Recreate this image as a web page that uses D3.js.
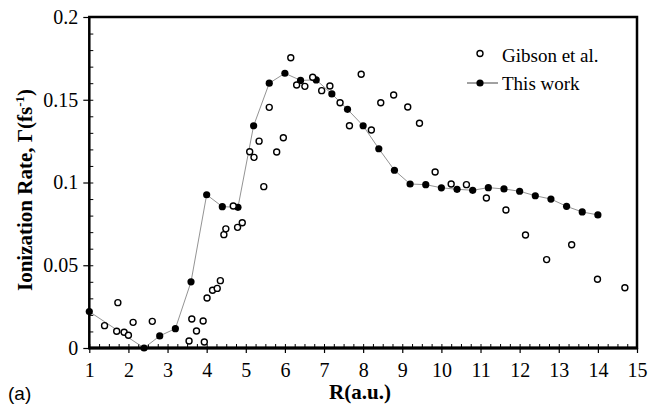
<!DOCTYPE html>
<html>

<script src="https://cdn.jsdelivr.net/npm/d3@7"></script>

<style>

  body, html {
    padding: 0;
    margin: 0;
    background: white;
  }

  svg {
    width: 649px;
    height: 405px;
    display: block;
  }

  svg text {
    font-family: "Liberation Serif", "Times New Roman", Times, "DejaVu Serif", serif;
    fill: black;
  }

</style>

<body>
  <svg></svg>

	<script>

    // ionization rate vs internuclear distance R

    var workR = [1.0, 2.4, 2.8, 3.2, 3.6, 4.0, 4.4, 4.8, 5.2, 5.6, 6.0, 6.4, 6.8,
      7.2, 7.6, 8.0, 8.4, 8.8, 9.2, 9.6, 10.0, 10.4, 10.8, 11.2, 11.6, 12.0,
      12.4, 12.8, 13.2, 13.6, 14.0];
    var workRate = [0.022, 0.0, 0.0073, 0.0117, 0.040, 0.0926, 0.0854, 0.085,
      0.1343, 0.160, 0.166, 0.1617, 0.162, 0.1535, 0.1442, 0.1343, 0.1204,
      0.1074, 0.0991, 0.0987, 0.0968, 0.0959, 0.0953, 0.0969, 0.0961, 0.0947,
      0.092, 0.090, 0.0856, 0.0822, 0.0804];

    var gibsonR = [1.39, 1.73, 1.70, 1.89, 2.00, 2.12, 2.61, 3.55, 3.62, 3.74,
      3.91, 3.94, 4.01, 4.15, 4.27, 4.35, 4.44, 4.49, 4.68, 4.79, 4.91, 5.10,
      5.21, 5.34, 5.46, 5.60, 5.79, 5.96, 6.15, 6.30, 6.51, 6.71, 6.94, 7.15,
      7.41, 7.65, 7.95, 8.21, 8.45, 8.78, 9.14, 9.44, 9.84, 10.25, 10.64,
      11.15, 11.65, 12.15, 12.69, 13.33, 13.99, 14.69];
    var gibsonRate = [0.0135, 0.0274, 0.0101, 0.0095, 0.0077, 0.0155, 0.0161,
      0.0042, 0.0175, 0.0103, 0.0163, 0.0036, 0.0302, 0.0349, 0.036, 0.0407,
      0.0685, 0.072, 0.0858, 0.0729, 0.0757, 0.1186, 0.1152, 0.125, 0.0975,
      0.1454, 0.1184, 0.127, 0.1754, 0.1589, 0.1581, 0.1636, 0.1555, 0.1583,
      0.1482, 0.1343, 0.1654, 0.1317, 0.1482, 0.1529, 0.1456, 0.1358, 0.1063,
      0.0991, 0.0987, 0.0906, 0.0834, 0.0683, 0.0534, 0.0624, 0.0415, 0.0364];

    var xTicks = [1, 2, 3, 4, 5, 6, 7, 8, 9, 10, 11, 12, 13, 14, 15];
    var yTicks = [0, 0.05, 0.1, 0.15, 0.2];
    var yTickLabels = ['0', '0.05', '0.1', '0.15', '0.2'];

    var legendLabels = ['Gibson et al.', 'This work'];

    var work = workR.map(function (r, i) { return {r: r, v: workRate[i]}; });
    var gibson = gibsonR.map(function (r, i) { return {r: r, v: gibsonRate[i]}; });

    var serif = '"Liberation Serif", "Times New Roman", Times, "DejaVu Serif", serif';

    var svg = d3.select('svg');

    // plot box (window.top is reserved, so use other names)
    var plotL = 89.3, plotR = 637, plotT = 17, plotB = 348;

    var x = d3.scaleLinear().domain([1, 15]).range([plotL, plotR]);
    var y = d3.scaleLinear().domain([0, 0.2]).range([plotB, plotT]);

    // minor ticks (inside the frame)

    var xMinor = d3.range(1, 15.001, 0.25);
    var yMinor = d3.range(0, 0.2001, 0.01);

    svg.append('g')
        .attr('transform', 'translate(0,' + plotB + ')')
        .call(d3.axisTop(x).tickValues(xMinor).tickSize(4).tickFormat(''))
        .call(function (g) { g.select('.domain').remove(); })
        .selectAll('line').attr('stroke-width', 1);

    svg.append('g')
        .attr('transform', 'translate(' + plotL + ',0)')
        .call(d3.axisRight(y).tickValues(yMinor).tickSize(4).tickFormat(''))
        .call(function (g) { g.select('.domain').remove(); })
        .selectAll('line').attr('stroke-width', 1);

    // major axes

    var xAxis = svg.append('g')
        .attr('transform', 'translate(0,' + plotB + ')')
        .call(d3.axisBottom(x).tickValues(xTicks).tickSize(5).tickPadding(10)
          .tickFormat(d3.format('d')));

    var yAxis = svg.append('g')
        .attr('transform', 'translate(' + plotL + ',0)')
        .call(d3.axisLeft(y).tickValues(yTicks).tickSize(6).tickPadding(5)
          .tickFormat(function (d, i) { return yTickLabels[i]; }));

    [xAxis, yAxis].forEach(function (g) {
      g.attr('font-family', serif);
      g.select('.domain').remove();
      g.selectAll('line').attr('stroke-width', 1.2);
      g.selectAll('text')
        .style('font-family', serif)
        .style('font-size', '20px');
    });

    // frame

    svg.append('rect')
        .attr('x', plotL)
        .attr('y', plotT)
        .attr('width', plotR - plotL)
        .attr('height', plotB - plotT)
        .attr('fill', 'none')
        .attr('stroke', 'black')
        .attr('stroke-width', 2.5);

    svg.append('line')
        .attr('x1', plotL - 1).attr('x2', plotR + 1)
        .attr('y1', plotB).attr('y2', plotB)
        .attr('stroke', 'black')
        .attr('stroke-width', 3);

    // this work: line + filled dots

    var line = d3.line()
        .x(function (d) { return x(d.r); })
        .y(function (d) { return y(d.v); });

    svg.append('path')
        .datum(work)
        .attr('d', line)
        .attr('fill', 'none')
        .attr('stroke', '#777')
        .attr('stroke-width', 0.8);

    svg.selectAll('circle.work').data(work)
      .enter()
      .append('circle')
        .attr('class', 'work')
        .attr('r', 3.6)
        .attr('fill', 'black')
        .attr('cx', function (d) { return x(d.r); })
        .attr('cy', function (d) { return y(d.v); });

    // Gibson et al.: open circles

    svg.selectAll('circle.gibson').data(gibson)
      .enter()
      .append('circle')
        .attr('class', 'gibson')
        .attr('r', 3)
        .attr('fill', 'white')
        .attr('stroke', 'black')
        .attr('stroke-width', 1.4)
        .attr('cx', function (d) { return x(d.r); })
        .attr('cy', function (d) { return y(d.v); });

    // legend

    var legend = svg.append('g');

    legend.append('circle')
        .attr('cx', 480).attr('cy', 53.5).attr('r', 3)
        .attr('fill', 'white').attr('stroke', 'black').attr('stroke-width', 1.4);

    legend.append('line')
        .attr('x1', 467).attr('x2', 498)
        .attr('y1', 83).attr('y2', 83)
        .attr('stroke', '#444').attr('stroke-width', 1);

    legend.append('circle')
        .attr('cx', 480).attr('cy', 83).attr('r', 3.6)
        .attr('fill', 'black');

    legend.selectAll('text').data(legendLabels)
      .enter()
      .append('text')
        .attr('x', 502)
        .attr('y', function (d, i) { return 62 + i * 28; })
        .style('font-family', serif)
        .style('font-size', '19px')
        .text(function (d) { return d; });

    // axis titles

    svg.append('text')
        .attr('x', 360)
        .attr('y', 399)
        .attr('text-anchor', 'middle')
        .style('font-family', serif)
        .style('font-size', '21px')
        .style('font-weight', 'bold')
        .text('R(a.u.)');

    var yTitle = svg.append('text')
        .attr('transform', 'translate(32,190) rotate(-90)')
        .attr('text-anchor', 'middle')
        .style('font-family', serif)
        .style('font-size', '21px')
        .style('font-weight', 'bold');

    yTitle.append('tspan').text('Ionization Rate, \u0393(fs');
    yTitle.append('tspan').attr('dy', -8).style('font-size', '13px').text('-1');
    yTitle.append('tspan').attr('dy', 8).text(')');

    // panel label

    svg.append('text')
        .attr('x', 8)
        .attr('y', 400)
        .style('font-family', '"Liberation Sans", Arial, sans-serif')
        .style('font-size', '19px')
        .text('(a)');

	</script>
</body>
</html>
